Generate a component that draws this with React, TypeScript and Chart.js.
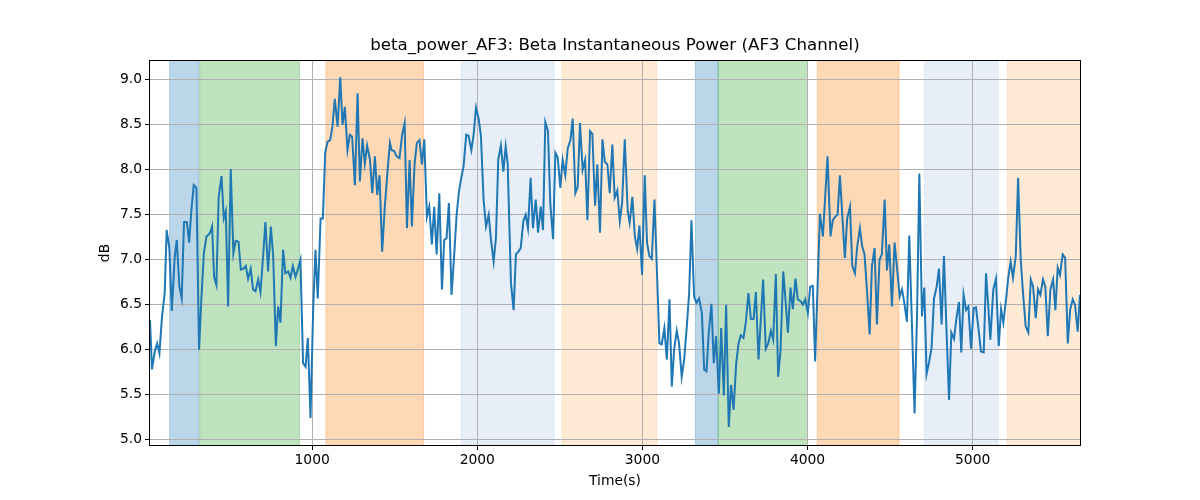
import React, { useEffect, useRef } from "react";
import { Chart, registerables } from "chart.js";

Chart.register(...registerables);

const titleText = "beta_power_AF3: Beta Instantaneous Power (AF3 Channel)";
const xLabel = "Time(s)";
const yLabel = "dB";

const timeSec = [
  18, 30, 47, 61, 75, 91, 107, 119, 135, 150, 168, 180, 196, 210, 224, 241, 255, 269, 283, 299,
  315, 329, 344, 360, 374, 384, 394, 406, 420, 434, 451, 465, 477, 491, 507, 523, 537, 554, 568, 584,
  598, 612, 628, 642, 657, 673, 687, 703, 717, 733,
  750, 764, 780, 794, 808, 824, 838, 855, 869, 883, 899, 913, 929, 945, 960, 974, 990, 1006, 1020, 1034,
  1051, 1065, 1079, 1093, 1109, 1123, 1137, 1154, 1170, 1184, 1198, 1214, 1228, 1242, 1259, 1275, 1289, 1305, 1319, 1333,
  1350, 1364, 1380, 1394, 1408, 1424, 1440, 1457, 1471,
  1481, 1497, 1511, 1529, 1545, 1560, 1574, 1590, 1604, 1620, 1634, 1650, 1665, 1679, 1695, 1709, 1725, 1739, 1754, 1770,
  1786, 1800, 1814, 1828, 1844, 1859, 1875, 1889, 1903, 1917, 1933, 1947, 1964, 1978, 1992, 2008, 2022, 2038, 2053, 2069,
  2083, 2099, 2113, 2127, 2143, 2158, 2172,
  2184, 2204, 2220, 2234, 2249, 2263, 2279, 2293, 2307, 2323, 2337, 2354, 2368, 2384, 2398, 2412, 2428, 2442, 2459, 2473,
  2487, 2503, 2517, 2533, 2548, 2564, 2578, 2594, 2608, 2622, 2638, 2653, 2667, 2683, 2697, 2713, 2727, 2743, 2758, 2772,
  2788, 2802, 2818, 2832, 2848, 2863, 2877, 2893,
  2911, 2923, 2939, 2954, 2968, 2982, 2998, 3014, 3028, 3042, 3057, 3073, 3103, 3117, 3133, 3148, 3164, 3178, 3192, 3208,
  3222, 3238, 3253, 3269, 3283, 3297, 3313, 3327, 3343, 3360, 3374, 3388, 3402, 3418, 3432, 3446, 3463, 3477, 3493, 3507,
  3523, 3537, 3552, 3568, 3582, 3596, 3612, 3626, 3642,
  3657, 3673, 3687, 3703, 3731, 3747, 3762, 3778, 3792, 3808, 3822, 3836, 3853, 3867, 3881, 3897, 3911, 3927, 3941, 3958,
  3972, 3986, 4002, 4016, 4032, 4046, 4075, 4093, 4121, 4139, 4153, 4168, 4182, 4196, 4226, 4240, 4257, 4271, 4287, 4301,
  4317, 4331, 4345, 4361, 4376,
  4390, 4406, 4420, 4436, 4450, 4467, 4481, 4495, 4511, 4527, 4541, 4558, 4572, 4586, 4602, 4616, 4632, 4648, 4663, 4677,
  4693, 4707, 4721, 4737, 4751, 4766, 4782, 4796, 4812, 4826, 4842, 4857, 4871, 4887, 4901, 4917, 4931, 4945, 4960, 4974,
  4990, 5006, 5020, 5036, 5050, 5067, 5081, 5097, 5107,
  5125, 5141, 5158, 5172, 5186, 5202, 5216, 5230, 5244, 5261, 5275, 5291, 5305, 5321, 5337, 5352, 5366, 5382, 5396, 5410,
  5426, 5440, 5455, 5471, 5487, 5501, 5515, 5529, 5545, 5560, 5576, 5590, 5606, 5620, 5636, 5650,
];

const betaDb = [
  6.33, 5.78, 5.98, 6.07, 5.96, 6.37, 6.63, 7.33, 7.13, 6.43, 7.04, 7.22, 6.70, 6.57, 7.42, 7.42, 7.19, 7.56, 7.83, 7.80,
  6.00, 6.56, 7.07, 7.26, 7.28, 7.31, 7.37, 6.81, 6.72, 7.70, 7.93, 7.46, 7.54, 6.48, 8.01, 7.07, 7.21, 7.20, 6.89, 6.90,
  6.93, 6.79, 6.90, 6.67, 6.65, 6.78, 6.64, 7.04, 7.42, 6.87,
  7.37, 7.04, 6.04, 6.48, 6.30, 7.11, 6.85, 6.87, 6.80, 6.93, 6.81, 6.89, 7.00, 5.85, 5.81, 6.13, 5.24, 6.44, 7.11, 6.57,
  7.46, 7.46, 8.19, 8.31, 8.33, 8.48, 8.79, 8.48, 9.03, 8.50, 8.70, 8.22, 8.39, 8.37, 7.83, 8.85, 7.87, 8.35, 8.07, 8.27,
  8.11, 7.74, 8.15, 7.72, 7.94, 7.09, 7.59, 8.00, 8.30,
  8.22, 8.21, 8.15, 8.13, 8.39, 8.52, 7.35, 8.11, 7.37, 8.06, 8.30, 8.33, 8.06, 8.34, 7.48, 7.59, 7.17, 7.59, 7.06, 7.74,
  6.67, 7.22, 7.24, 7.63, 6.61, 7.02, 7.50, 7.76, 7.91, 8.04, 8.39, 8.38, 8.22, 8.39, 8.69, 8.57, 8.38, 7.67, 7.37, 7.50,
  7.22, 6.98, 7.24, 8.11, 8.27, 7.98, 8.26,
  8.07, 6.74, 6.44, 7.06, 7.09, 7.13, 7.43, 7.50, 7.35, 7.91, 7.35, 7.67, 7.30, 7.59, 7.33, 8.53, 8.43, 7.63, 7.23, 8.19,
  8.14, 7.80, 8.11, 7.94, 8.24, 8.33, 8.57, 7.74, 7.81, 8.52, 8.00, 8.11, 7.44, 8.43, 8.40, 7.60, 8.06, 7.30, 8.34, 8.09,
  8.06, 7.74, 8.28, 7.69, 7.77, 7.43, 7.63, 8.34,
  7.54, 7.41, 7.70, 7.26, 7.12, 7.38, 6.83, 7.94, 7.19, 7.04, 7.01, 7.67, 6.07, 6.06, 6.24, 5.89, 6.56, 5.59, 6.00, 6.21,
  6.07, 5.70, 5.89, 6.26, 6.63, 7.44, 6.59, 6.52, 6.57, 6.41, 5.78, 5.76, 6.19, 6.51, 5.85, 6.15, 5.51, 6.24, 5.49, 6.50,
  5.14, 5.61, 5.33, 5.85, 6.07, 6.16, 6.13, 6.30, 6.63,
  6.34, 6.34, 6.64, 5.89, 6.78, 6.01, 6.07, 6.21, 6.11, 6.84, 5.70, 5.98, 6.87, 6.54, 6.19, 6.69, 6.45, 6.79, 6.56, 6.54,
  6.50, 6.56, 6.41, 6.70, 6.71, 5.87, 7.51, 7.26, 8.15, 7.26, 7.44, 7.48, 7.50, 7.94, 7.02, 7.46, 7.59, 6.93, 6.85, 7.15,
  7.35, 7.15, 7.06, 6.63, 6.17,
  6.93, 7.13, 6.28, 7.00, 7.06, 7.67, 6.88, 7.17, 6.48, 7.19, 6.93, 6.59, 6.67, 6.52, 6.31, 7.27, 6.30, 5.29, 6.37, 7.96,
  6.37, 6.69, 5.73, 5.87, 6.02, 6.57, 6.70, 6.90, 6.28, 7.04, 6.19, 5.44, 6.19, 6.12, 6.34, 6.53, 5.97, 6.61, 6.44, 6.48,
  6.01, 6.46, 6.47, 6.22, 5.98, 5.97, 6.85, 6.41, 6.11,
  6.67, 6.79, 6.04, 6.45, 6.30, 6.56, 6.81, 6.98, 6.80, 7.04, 7.91, 7.00, 6.63, 6.26, 6.19, 6.78, 6.70, 6.35, 6.67, 6.61,
  6.78, 6.70, 6.15, 6.67, 6.78, 6.44, 6.91, 6.83, 7.06, 7.02, 6.07, 6.44, 6.56, 6.50, 6.20, 6.61,
];

const xTicks = [1000, 2000, 3000, 4000, 5000];
const yTicks = [5.0, 5.5, 6.0, 6.5, 7.0, 7.5, 8.0, 8.5, 9.0];
const xMin = 18;
const xMax = 5650;
const yMin = 4.94;
const yMax = 9.21;

const spanStart = [137, 319, 1083, 1903, 2513, 3321, 3459, 4059, 4707, 5210];
const spanEnd = [313, 923, 1675, 2465, 3087, 3459, 4000, 4554, 5154, 5700];
const spanColor = [
  "rgba(31,119,180,0.3)",
  "rgba(44,160,44,0.3)",
  "rgba(255,127,14,0.3)",
  "rgba(174,199,232,0.3)",
  "rgba(255,187,120,0.3)",
  "rgba(31,119,180,0.3)",
  "rgba(44,160,44,0.3)",
  "rgba(255,127,14,0.3)",
  "rgba(174,199,232,0.3)",
  "rgba(255,187,120,0.3)",
];

const FONT = "DejaVu Sans";

export default function App() {
  const ref = useRef<HTMLCanvasElement>(null);

  useEffect(() => {
    document.body.style.margin = "0";
    const canvas = ref.current;
    if (!canvas) return;

    const n = Math.min(timeSec.length, betaDb.length);
    const points = [];
    for (let i = 0; i < n; i++) points.push({ x: timeSec[i], y: betaDb[i] });

    const spansPlugin = {
      id: "spans",
      beforeDraw(chart: any) {
        const { ctx, chartArea, scales } = chart;
        const x = scales.x;
        ctx.save();
        ctx.beginPath();
        ctx.rect(chartArea.left, chartArea.top, chartArea.right - chartArea.left, chartArea.bottom - chartArea.top);
        ctx.clip();
        for (let i = 0; i < spanStart.length; i++) {
          const x0 = x.getPixelForValue(spanStart[i]);
          const x1 = x.getPixelForValue(spanEnd[i]);
          ctx.fillStyle = spanColor[i];
          ctx.fillRect(x0, chartArea.top, x1 - x0, chartArea.bottom - chartArea.top);
          ctx.strokeStyle = spanColor[i];
          ctx.lineWidth = 1;
          ctx.strokeRect(x0, chartArea.top - 2, x1 - x0, chartArea.bottom - chartArea.top + 4);
        }
        ctx.restore();
      },
      afterDraw(chart: any) {
        const { ctx, chartArea } = chart;
        ctx.save();
        ctx.strokeStyle = "#000";
        ctx.lineWidth = 1;
        ctx.strokeRect(
          Math.round(chartArea.left) - 0.5,
          Math.round(chartArea.top) - 0.5,
          Math.round(chartArea.right - chartArea.left) + 1,
          Math.round(chartArea.bottom - chartArea.top) + 1
        );
        ctx.fillStyle = "#000";
        ctx.font = `16.67px "${FONT}"`;
        ctx.textAlign = "center";
        ctx.textBaseline = "middle";
        ctx.fillText(titleText, (chartArea.left + chartArea.right) / 2, 46);
        ctx.restore();
      },
    };

    const tickFont = { family: FONT, size: 13.89 };

    const chart = new Chart(canvas, {
      type: "line",
      data: {
        datasets: [
          {
            data: points,
            borderColor: "#1f77b4",
            borderWidth: 2,
            pointRadius: 0,
            tension: 0,
            fill: false,
          },
        ],
      },
      options: {
        responsive: false,
        animation: false,
        devicePixelRatio: 1,
        events: [],
        layout: { padding: { left: 90, right: 120, top: 61, bottom: 0 } },
        plugins: {
          legend: { display: false },
          tooltip: { enabled: false },
          title: { display: false },
        },
        scales: {
          x: {
            type: "linear",
            min: xMin,
            max: xMax,
            afterFit(s: any) {
              s.height = 55;
            },
            afterBuildTicks(s: any) {
              s.ticks = xTicks.map((v) => ({ value: v }));
            },
            border: { display: false },
            grid: { color: "#b0b0b0", lineWidth: 1, tickLength: 5, tickColor: "#000" },
            ticks: {
              color: "#000",
              font: tickFont,
              padding: 2,
              maxRotation: 0,
              autoSkip: false,
              callback: (v: any) => String(v),
            },
            title: {
              display: true,
              text: xLabel,
              color: "#000",
              font: tickFont,
              padding: { top: 0, bottom: 10 },
            },
          },
          y: {
            type: "linear",
            min: yMin,
            max: yMax,
            afterFit(s: any) {
              s.width = 60;
            },
            afterBuildTicks(s: any) {
              s.ticks = yTicks.map((v) => ({ value: v }));
            },
            border: { display: false },
            grid: { color: "#b0b0b0", lineWidth: 1, tickLength: 5, tickColor: "#000" },
            ticks: {
              color: "#000",
              font: tickFont,
              padding: 3,
              autoSkip: false,
              callback: (v: any) => Number(v).toFixed(1),
            },
            title: {
              display: true,
              text: yLabel,
              color: "#000",
              font: tickFont,
              padding: { top: 7, bottom: 0 },
            },
          },
        },
      },
      plugins: [spansPlugin],
    } as any);

    return () => chart.destroy();
  }, []);

  return (
    <div style={{ width: 1200, height: 500, background: "#fff" }}>
      <canvas ref={ref} width={1200} height={500} style={{ display: "block" }} />
    </div>
  );
}
